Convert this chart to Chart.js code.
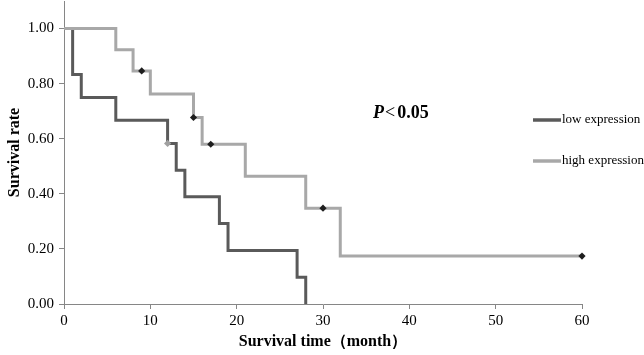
<!DOCTYPE html>
<html>
<head>
<meta charset="utf-8">
<script src="https://cdn.jsdelivr.net/npm/chart.js@4.4.1/dist/chart.umd.min.js"></script>
<style>
html,body{margin:0;padding:0;background:#fff;}
#wrap{width:644px;height:355px;position:relative;}
</style>
</head>
<body>
<div id="wrap"><canvas id="c" width="644" height="355"></canvas></div>
<script>
// Kaplan-Meier step data (time in months, survival rate)
const lowTimes = [0, 1, 2, 6, 12, 13, 14, 18, 19, 27, 28];
const lowSurv  = [1.00, 0.833, 0.75, 0.667, 0.583, 0.486, 0.389, 0.292, 0.194, 0.097, 0.00];
const highTimes = [0, 6, 8, 10, 15, 16, 21, 28, 32, 60];
const highSurv  = [1.00, 0.923, 0.846, 0.762, 0.677, 0.580, 0.464, 0.348, 0.174, 0.174];
// censored observations
const lowCensorTimes = [12];
const lowCensorSurv  = [0.583];
const highCensorTimes = [9, 15, 17, 30, 60];
const highCensorSurv  = [0.846, 0.677, 0.580, 0.348, 0.174];
const xTicks = [0, 10, 20, 30, 40, 50, 60];
const yTicks = [0, 0.2, 0.4, 0.6, 0.8, 1.0];
const seriesNames = ['low expression', 'high expression'];
const pText = ['P', '<', '0.05'];

const toXY = (xs, ys) => xs.map((x, i) => ({x: x, y: ys[i]}));

const DARK = '#5a5a5a', LIGHT = '#a8a8a8', AXIS = '#868686';
const SERIF = '"Liberation Serif", "Times New Roman", serif';

const overlay = {
  id: 'overlay',
  afterDraw(chart) {
    const ctx = chart.ctx;
    const xs = chart.scales.x, ys = chart.scales.y;
    ctx.save();
    // P < 0.05
    let px = xs.getPixelForValue(35.8), py = ys.getPixelForValue(0.693);
    ctx.textBaseline = 'middle';
    ctx.fillStyle = '#000';
    ctx.font = 'italic bold 18px ' + SERIF;
    ctx.fillText(pText[0], px, py);
    px += ctx.measureText(pText[0]).width + 1;
    ctx.font = '18px ' + SERIF;
    ctx.fillText(pText[1], px, py);
    px += ctx.measureText(pText[1]).width + 2;
    ctx.font = 'bold 18px ' + SERIF;
    ctx.fillText(pText[2], px, py);
    // legend
    const colors = [DARK, LIGHT];
    const ly = [120, 161];
    ctx.font = '13px ' + SERIF;
    for (let i = 0; i < 2; i++) {
      ctx.strokeStyle = colors[i];
      ctx.lineWidth = 3.5;
      ctx.beginPath();
      ctx.moveTo(533, ly[i]);
      ctx.lineTo(561, ly[i]);
      ctx.stroke();
      ctx.fillStyle = '#000';
      ctx.fillText(seriesNames[i], 562, ly[i]);
    }
    ctx.restore();
  }
};

new Chart(document.getElementById('c'), {
  type: 'line',
  data: {
    datasets: [
      {
        label: 'high censored',
        data: toXY(highCensorTimes, highCensorSurv),
        showLine: false,
        clip: false,
        pointStyle: 'rectRot',
        pointRadius: 3.6,
        backgroundColor: '#1e1e1e',
        borderColor: '#1e1e1e',
        borderWidth: 0
      },
      {
        label: 'low censored',
        data: toXY(lowCensorTimes, lowCensorSurv),
        showLine: false,
        clip: false,
        pointStyle: 'rectRot',
        pointRadius: 3.6,
        backgroundColor: '#a0a0a0',
        borderColor: '#a0a0a0',
        borderWidth: 0
      },
      {
        label: seriesNames[1],
        data: toXY(highTimes, highSurv),
        stepped: 'before',
        clip: false,
        borderColor: LIGHT,
        borderWidth: 3,
        pointRadius: 0,
        fill: false
      },
      {
        label: seriesNames[0],
        data: toXY(lowTimes, lowSurv),
        stepped: 'before',
        clip: false,
        borderColor: DARK,
        borderWidth: 3,
        pointRadius: 0,
        fill: false
      }
    ]
  },
  options: {
    responsive: false,
    animation: false,
    layout: { autoPadding: false, padding: { left: 0, right: 62, top: 1, bottom: 0 } },
    plugins: { legend: { display: false }, tooltip: { enabled: false } },
    scales: {
      x: {
        type: 'linear',
        min: 0, max: 60,
        afterBuildTicks: s => { s.ticks = xTicks.map(v => ({value: v})); },
        afterFit: s => { s.height = 51; s.paddingLeft = 0; s.paddingRight = 0; },
        border: { color: AXIS, width: 1 },
        grid: { drawOnChartArea: false, color: AXIS, tickLength: 5 },
        ticks: { color: '#000', font: { family: SERIF, size: 15 }, padding: 3, maxRotation: 0 },
        title: { display: true, text: 'Survival time（month）', color: '#000',
                 font: { family: SERIF, size: 16, weight: 'bold' }, padding: { top: 0, bottom: 4 } }
      },
      y: {
        type: 'linear',
        min: 0, max: 1.1,
        afterBuildTicks: s => { s.ticks = yTicks.map(v => ({value: v})); },
        afterFit: s => { s.width = 64; s.paddingTop = 0; s.paddingBottom = 0; },
        border: { color: AXIS, width: 1 },
        grid: { drawOnChartArea: false, color: AXIS, tickLength: 5 },
        ticks: { color: '#000', font: { family: SERIF, size: 15 }, padding: 5,
                 callback: v => Number(v).toFixed(2) },
        title: { display: true, text: 'Survival rate', color: '#000',
                 font: { family: SERIF, size: 16, weight: 'bold' }, padding: { top: 5, bottom: 0 } }
      }
    }
  },
  plugins: [overlay]
});
</script>
</body>
</html>
